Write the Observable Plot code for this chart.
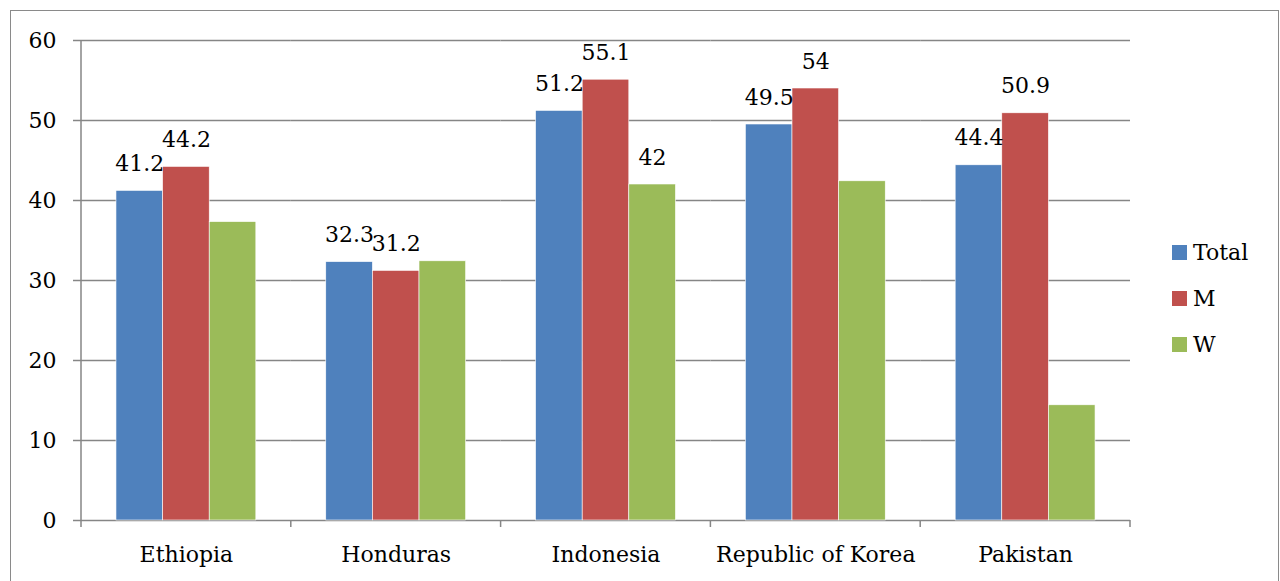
<!DOCTYPE html>
<html><head><meta charset="utf-8">
<script src="https://cdn.jsdelivr.net/npm/d3@7"></script>
<script src="https://cdn.jsdelivr.net/npm/@observablehq/plot@0.6"></script>
<style>
body{margin:0;background:#fff;}
#wrap{position:relative;width:1280px;height:581px;overflow:hidden;font-family:"DejaVu Serif",serif;}
#border{position:absolute;left:10px;top:10px;width:1269px;height:600px;border:1.5px solid #8a8a8a;box-sizing:border-box;}
#chart{position:absolute;left:0;top:0;}
#legend{position:absolute;left:1172px;top:229px;font-size:22px;color:#000;}
.item{display:flex;align-items:center;height:46px;}
.sw{width:15px;height:15px;margin-right:6px;}
</style></head>
<body><div id="wrap"><div id="border"></div><div id="chart"></div><div id="legend"></div></div>
<script>
const countries = ["Ethiopia", "Honduras", "Indonesia", "Republic of Korea", "Pakistan"];
const seriesNames = ["Total", "M", "W"];
const colors = ["#4F81BD", "#C0504D", "#9BBB59"];
const totalValues = [41.2, 32.3, 51.2, 49.5, 44.4];
const menValues = [44.2, 31.2, 55.1, 54, 50.9];
const womenValues = [37.3, 32.4, 42, 42.4, 14.4];
const totalLabels = ["41.2", "32.3", "51.2", "49.5", "44.4"];
const menLabels = ["44.2", "31.2", "55.1", "54", "50.9"];
const womenLabels = [null, null, "42", null, null];
const yTicks = [0, 10, 20, 30, 40, 50, 60];

const data = countries.flatMap((c, i) => [
  {country: c, series: "Total", value: totalValues[i], label: totalLabels[i]},
  {country: c, series: "M", value: menValues[i], label: menLabels[i]},
  {country: c, series: "W", value: womenValues[i], label: womenLabels[i]}
]);

const gray = "#868686";
const fs = 22;
const chart = Plot.plot({
  width: 1280, height: 581,
  marginLeft: 81, marginRight: 150, marginTop: 40, marginBottom: 61,
  style: {fontFamily: "'DejaVu Serif', serif", fontSize: fs + "px", color: "#000", background: "transparent", overflow: "visible"},
  fx: {domain: countries, padding: 0, label: null, round: false},
  x: {domain: seriesNames, paddingInner: 0, paddingOuter: 0.75, axis: null, round: false},
  y: {domain: [0, 60], label: null},
  color: {domain: seriesNames, range: colors},
  marks: [
    Plot.gridY(yTicks, {stroke: gray, strokeOpacity: 1, strokeWidth: 1.5}),
    Plot.axisY(yTicks, {tickSize: 8, tickPadding: 17, stroke: gray, strokeWidth: 1.5, label: null, fontSize: fs}),
    Plot.axisFx({anchor: "bottom", tickSize: 0, tickPadding: 26, label: null, fontSize: fs}),
    Plot.barY(data, {fx: "country", x: "series", y: "value", fill: "series", stroke: "white", strokeWidth: 0.6}),
    Plot.text(data.filter(d => d.label), {fx: "country", x: "series", y: "value", text: "label", lineAnchor: "bottom", dy: -20, fontSize: fs})
  ]
});
document.getElementById("chart").appendChild(chart);

// axis line and category boundary ticks, from the chart's own scales
const fxS = chart.scale("fx");
const yS = chart.scale("y");
const band = d3.scaleBand().domain(fxS.domain).range(fxS.range)
  .paddingInner(fxS.paddingInner ?? 0).paddingOuter(fxS.paddingOuter ?? 0).align(fxS.align ?? 0.5);
const yLin = d3.scaleLinear().domain(yS.domain).range(yS.range);
const svg = d3.select(chart.tagName.toLowerCase() === "svg" ? chart : chart.querySelector("svg"));
const g = svg.append("g").attr("stroke", gray).attr("stroke-width", 1.5);
const y0 = yLin(0), yTop = yLin(60);
g.append("line").attr("x1", band.range()[0]).attr("x2", band.range()[0]).attr("y1", yTop).attr("y2", y0 + 7);
const edges = countries.map(c => band(c) + band.bandwidth());
edges.forEach(x => g.append("line").attr("x1", x).attr("x2", x).attr("y1", y0).attr("y2", y0 + 7));

// legend
const legend = d3.select("#legend");
seriesNames.forEach((s, i) => {
  const it = legend.append("div").attr("class", "item");
  it.append("div").attr("class", "sw").style("background", colors[i]);
  it.append("span").text(s);
});
</script>
</body></html>
